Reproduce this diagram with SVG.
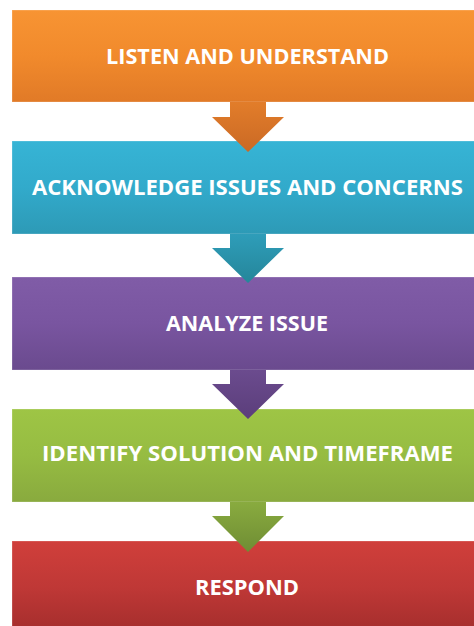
<svg xmlns="http://www.w3.org/2000/svg" width="474" height="626" viewBox="0 0 474 626">
  <defs>
    <linearGradient id="gOr" x1="0" y1="0" x2="0" y2="1"><stop offset="0" stop-color="#F79433"/><stop offset="0.5" stop-color="#F18A2C"/><stop offset="1" stop-color="#E17A27"/></linearGradient>
    <linearGradient id="gBl" x1="0" y1="0" x2="0" y2="1"><stop offset="0" stop-color="#36B4D5"/><stop offset="0.5" stop-color="#32AACB"/><stop offset="1" stop-color="#2D9AB6"/></linearGradient>
    <linearGradient id="gPu" x1="0" y1="0" x2="0" y2="1"><stop offset="0" stop-color="#805CA7"/><stop offset="0.5" stop-color="#7955A0"/><stop offset="1" stop-color="#6A4A8E"/></linearGradient>
    <linearGradient id="gGr" x1="0" y1="0" x2="0" y2="1"><stop offset="0" stop-color="#9EC545"/><stop offset="0.5" stop-color="#96BC42"/><stop offset="1" stop-color="#89AA3E"/></linearGradient>
    <linearGradient id="gRd" x1="0" y1="0" x2="0" y2="1"><stop offset="0" stop-color="#D03F3B"/><stop offset="0.5" stop-color="#BF3836"/><stop offset="1" stop-color="#A32D2C"/></linearGradient>
    <linearGradient id="aOr" x1="0" y1="0" x2="0" y2="1"><stop offset="0" stop-color="#E27D2A"/><stop offset="1" stop-color="#CA6925"/></linearGradient>
    <linearGradient id="aBl" x1="0" y1="0" x2="0" y2="1"><stop offset="0" stop-color="#2E9DB9"/><stop offset="1" stop-color="#25869A"/></linearGradient>
    <linearGradient id="aPu" x1="0" y1="0" x2="0" y2="1"><stop offset="0" stop-color="#6B4B8E"/><stop offset="1" stop-color="#5B3E7B"/></linearGradient>
    <linearGradient id="aGr" x1="0" y1="0" x2="0" y2="1"><stop offset="0" stop-color="#89AB3F"/><stop offset="1" stop-color="#6F8D34"/></linearGradient>
  </defs>
  <style>
    .box { stroke: #ffffff; stroke-opacity: 0.25; stroke-width: 1; }
    .lbl { font-family: "Open Sans", "Liberation Sans", sans-serif; font-weight: bold; font-size: 22px; fill: #ffffff; text-anchor: middle; }
  </style>
  <rect width="474" height="626" fill="#ffffff"/>
  <g id="node1">
    <rect class="box" x="12" y="10" width="472" height="92" fill="url(#gOr)"/>
    <text class="lbl" x="247.5" y="64" textLength="283" lengthAdjust="spacingAndGlyphs">LISTEN AND UNDERSTAND</text>
  </g>
  <g id="node2">
    <rect class="box" x="12" y="141" width="472" height="93" fill="url(#gBl)"/>
    <text class="lbl" x="247.5" y="195" textLength="431" lengthAdjust="spacingAndGlyphs">ACKNOWLEDGE ISSUES AND CONCERNS</text>
  </g>
  <g id="node3">
    <rect class="box" x="12" y="277" width="472" height="93" fill="url(#gPu)"/>
    <text class="lbl" x="247" y="331" textLength="162" lengthAdjust="spacingAndGlyphs">ANALYZE ISSUE</text>
  </g>
  <g id="node4">
    <rect class="box" x="12" y="409" width="472" height="93" fill="url(#gGr)"/>
    <text class="lbl" x="247.5" y="461" textLength="411" lengthAdjust="spacingAndGlyphs">IDENTIFY SOLUTION AND TIMEFRAME</text>
  </g>
  <g id="node5">
    <rect class="box" x="12" y="541" width="472" height="93" fill="url(#gRd)"/>
    <text class="lbl" x="247" y="595" textLength="104" lengthAdjust="spacingAndGlyphs">RESPOND</text>
  </g>
  <g id="connectors">
    <path d="M230,102 H266 V117 H284 L248,152 L212,117 H230 Z" fill="url(#aOr)"/>
    <path d="M230,234 H266 V248 H284 L248,283 L212,248 H230 Z" fill="url(#aBl)"/>
    <path d="M230,370 H266 V384 H284 L248,419 L212,384 H230 Z" fill="url(#aPu)"/>
    <path d="M230,502 H266 V516 H284 L248,552 L212,516 H230 Z" fill="url(#aGr)"/>
  </g>
</svg>
